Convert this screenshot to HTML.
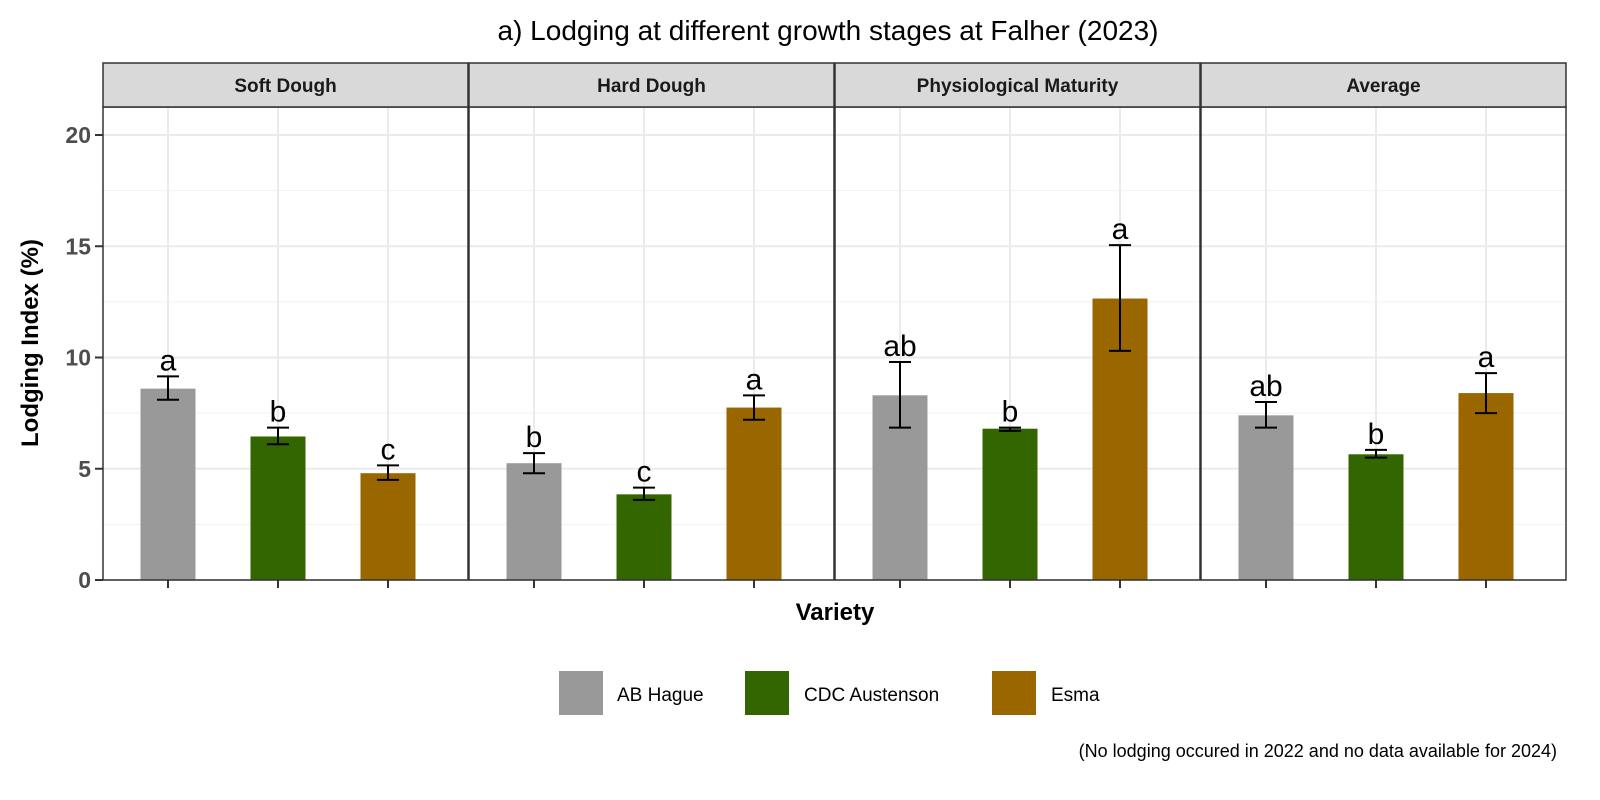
<!DOCTYPE html>
<html><head><meta charset="utf-8"><style>
html,body{margin:0;padding:0;background:#fff;overflow:hidden;width:1600px;height:800px}
svg{display:block}
svg text{font-family:"Liberation Sans",Arial,sans-serif}
</style></head><body>
<svg id="chart" width="1600" height="800" viewBox="0 0 1600 800">
<text x="828" y="40" font-size="28" text-anchor="middle" fill="#000">a) Lodging at different growth stages at Falher (2023)</text>
<text transform="translate(38,343) rotate(-90)" font-size="24" font-weight="bold" text-anchor="middle">Lodging Index (%)</text>
<text x="835" y="620" font-size="24" font-weight="bold" text-anchor="middle">Variety</text>
<g id="panels"></g>
<g>
<rect x="559" y="671" width="44" height="44" fill="#999999"/>
<text x="617" y="701" font-size="19">AB Hague</text>
<rect x="745" y="671" width="44" height="44" fill="#336600"/>
<text x="804" y="701" font-size="19">CDC Austenson</text>
<rect x="992" y="671" width="44" height="44" fill="#996600"/>
<text x="1051" y="701" font-size="19">Esma</text>
</g>
<text x="1557" y="757" font-size="18" text-anchor="end">(No lodging occured in 2022 and no data available for 2024)</text>
</svg>
<script>
const panelsNames=["Soft Dough","Hard Dough","Physiological Maturity","Average"];
const varieties=["AB Hague","CDC Austenson","Esma"];
const colors=["#999999","#336600","#996600"];
const means=[[8.6,6.45,4.8],[5.25,3.85,7.75],[8.3,6.8,12.65],[7.4,5.65,8.4]];
const errLow=[[8.1,6.1,4.5],[4.8,3.6,7.2],[6.85,6.7,10.3],[6.85,5.5,7.5]];
const errHigh=[[9.15,6.85,5.15],[5.7,4.15,8.3],[9.8,6.85,15.05],[8.0,5.85,9.3]];
const letters=[["a","b","c"],["b","c","a"],["ab","b","a"],["ab","b","a"]];
const yTicks=[0,5,10,15,20];
const NS="http://www.w3.org/2000/svg";
const g=document.getElementById("panels");
const y0=580,pxPer=22.25,panelTop=107,stripTop=63;
const y=v=>y0-v*pxPer;
function mk(t,a,p){const e=document.createElementNS(NS,t);for(const k in a)e.setAttribute(k,a[k]);(p||g).appendChild(e);return e;}
const pLeft=[103,469,835,1201],pW=365;
panelsNames.forEach((name,pi)=>{
  const L=pLeft[pi];
  const pg=mk("g",{});
  
  
  for(let v=2.5;v<=20;v+=5){mk("line",{x1:L,x2:L+pW,y1:y(v),y2:y(v),stroke:"#f2f2f2","stroke-width":1},pg);}
  yTicks.forEach(v=>mk("line",{x1:L,x2:L+pW,y1:y(v),y2:y(v),stroke:"#ebebeb","stroke-width":2},pg));
  varieties.forEach((vn,i)=>{const cx=L+65+110*i;mk("line",{x1:cx,x2:cx,y1:panelTop,y2:y0,stroke:"#ebebeb","stroke-width":2},pg);});
  varieties.forEach((vn,i)=>{
    const cx=L+65+110*i;
    const b=mk("rect",{x:cx-27.5,y:y(means[pi][i]),width:55,height:y0-y(means[pi][i]),fill:colors[i]},pg);
    
    
    const eg=mk("g",{stroke:"#000","stroke-width":2},pg);
    
    
    mk("line",{x1:cx,x2:cx,y1:y(errLow[pi][i]),y2:y(errHigh[pi][i])},eg);
    mk("line",{x1:cx-11,x2:cx+11,y1:y(errLow[pi][i]),y2:y(errLow[pi][i])},eg);
    mk("line",{x1:cx-11,x2:cx+11,y1:y(errHigh[pi][i]),y2:y(errHigh[pi][i])},eg);
    const t=mk("text",{x:cx,y:y(errHigh[pi][i])-6,"font-size":30,"text-anchor":"middle"},pg);
    t.textContent=letters[pi][i];
    
    
    mk("line",{x1:cx,x2:cx,y1:y0,y2:y0+8,stroke:"#333","stroke-width":2},pg);
  });
  mk("rect",{x:L,y:panelTop,width:pW,height:y0-panelTop,fill:"none",stroke:"#333","stroke-width":1.5},pg);
  mk("rect",{x:L,y:stripTop,width:pW,height:panelTop-stripTop,fill:"#d9d9d9",stroke:"#333","stroke-width":1.5},pg);
  const st=mk("text",{x:L+pW/2,y:92,"font-size":19,"font-weight":"bold","text-anchor":"middle",fill:"#1a1a1a"},pg);
  st.textContent=name;
  
  
});
yTicks.forEach(v=>{
  mk("line",{x1:95,x2:103,y1:y(v),y2:y(v),stroke:"#333","stroke-width":2});
  const t=mk("text",{x:91,y:y(v)+8,"font-size":23,"font-weight":"bold","text-anchor":"end",fill:"#4d4d4d"});
  t.textContent=v;
  
  
});
</script>
</body></html>
